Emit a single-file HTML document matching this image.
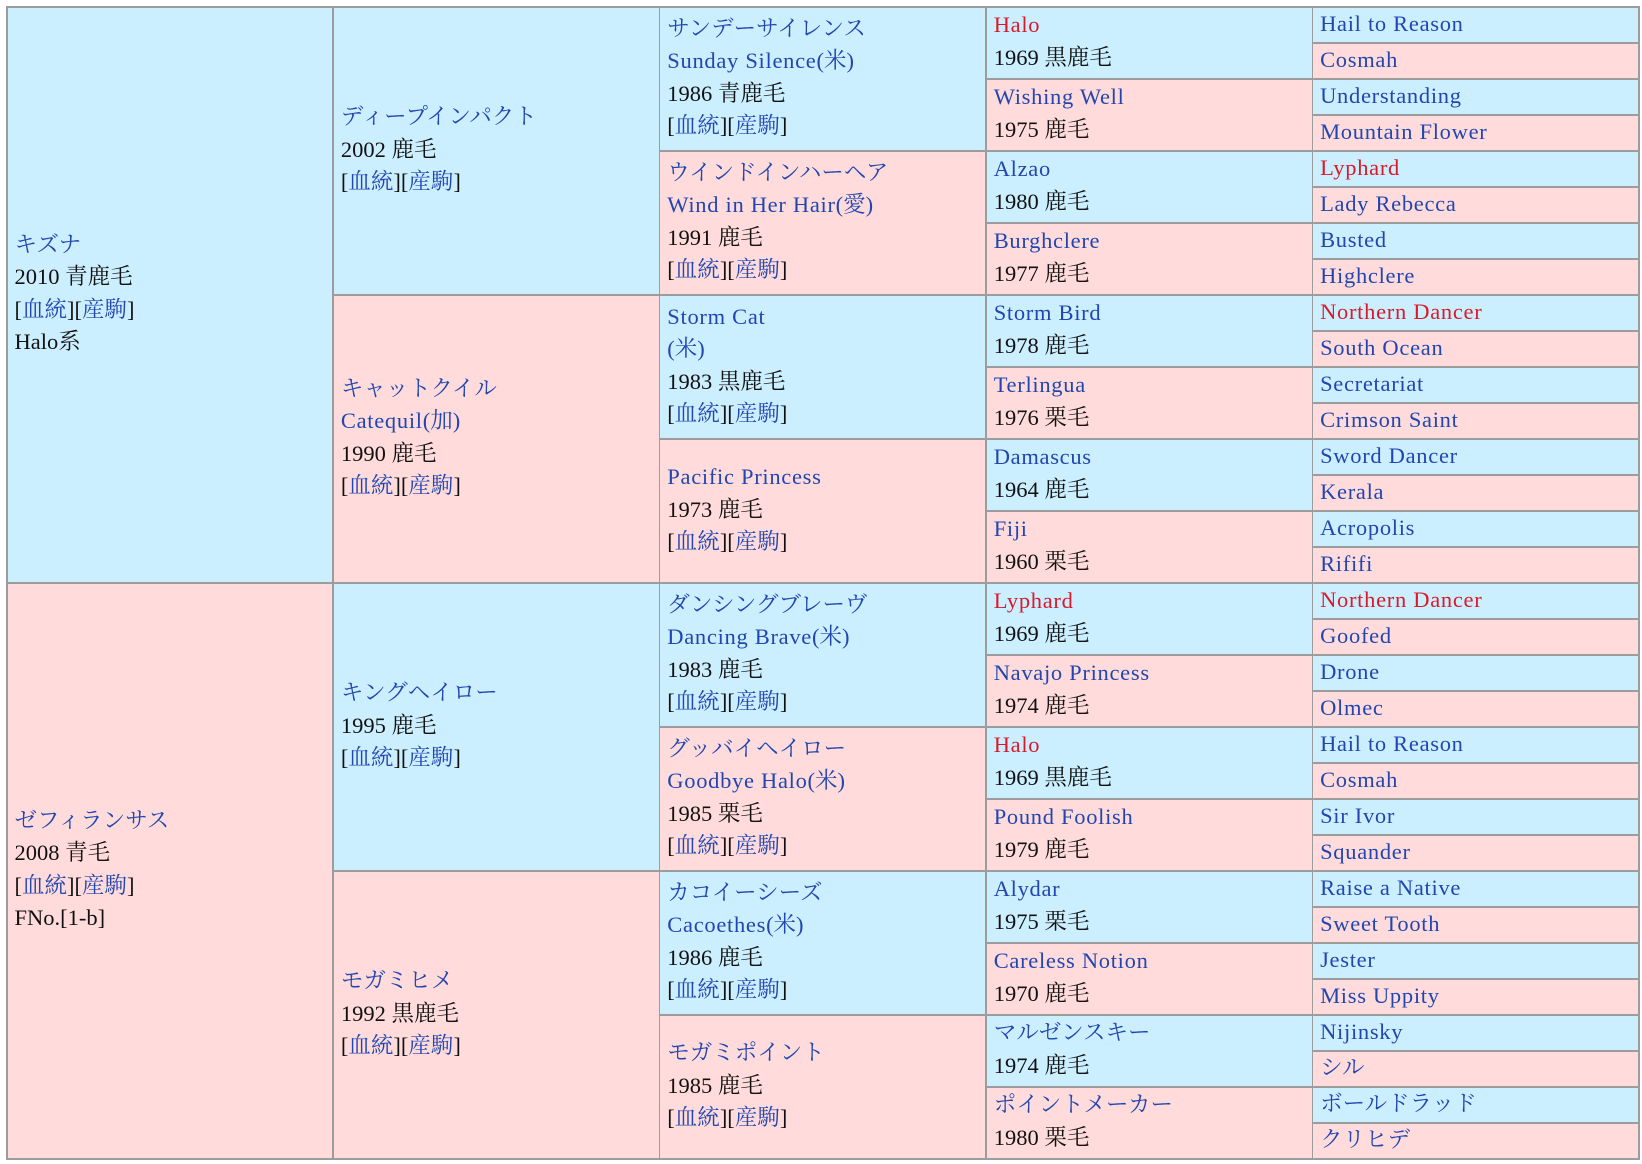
<!DOCTYPE html>
<html><head><meta charset="utf-8">
<style>
html,body{margin:0;padding:0;background:#fff;width:1642px;height:1164px;overflow:hidden}
#t{position:absolute;left:6px;top:6px;width:1633.5px;height:1153.5px;background:#9c9c9c;font-family:"Liberation Serif","Noto Serif CJK SC",serif;font-size:22.5px;line-height:32.5px;color:#111}
.c{position:absolute;display:flex;flex-direction:column;justify-content:center;padding:0 0 2px 7px;box-sizing:border-box;white-space:nowrap;overflow:hidden}
.b{background:#ccefff}.p{background:#ffdcdb}
.k0{left:1.5px;width:324.9px;height:574.5px}
.k1{left:327.9px;width:324.9px;height:286.5px}
.k2{left:654.3px;width:324.9px;height:142.5px}
.k3{left:980.7px;width:324.9px;height:70.5px}
.k4{left:1307.1px;width:324.9px;height:34.5px}
.k4 a,.e{letter-spacing:0.7px}
a{color:#2246b0;text-decoration:none}
.r{color:#d91a2a}
</style></head><body>
<div id="t">
<!-- col 0 -->
<div class="c k0 b" style="top:1.5px"><div><a>キズナ</a></div><div>2010 青鹿毛</div><div>[<a>血統</a>][<a>産駒</a>]</div><div>Halo系</div></div>
<div class="c k0 p" style="top:577.5px"><div><a>ゼフィランサス</a></div><div>2008 青毛</div><div>[<a>血統</a>][<a>産駒</a>]</div><div>FNo.[1-b]</div></div>
<!-- col 1 -->
<div class="c k1 b" style="top:1.5px"><div><a>ディープインパクト</a></div><div>2002 鹿毛</div><div>[<a>血統</a>][<a>産駒</a>]</div></div>
<div class="c k1 p" style="top:289.5px"><div><a>キャットクイル</a></div><div><a class="e">Catequil</a><a>(加)</a></div><div>1990 鹿毛</div><div>[<a>血統</a>][<a>産駒</a>]</div></div>
<div class="c k1 b" style="top:577.5px"><div><a>キングヘイロー</a></div><div>1995 鹿毛</div><div>[<a>血統</a>][<a>産駒</a>]</div></div>
<div class="c k1 p" style="top:865.5px"><div><a>モガミヒメ</a></div><div>1992 黒鹿毛</div><div>[<a>血統</a>][<a>産駒</a>]</div></div>
<!-- col 2 -->
<div class="c k2 b" style="top:1.5px"><div><a>サンデーサイレンス</a></div><div><a class="e">Sunday Silence</a><a>(米)</a></div><div>1986 青鹿毛</div><div>[<a>血統</a>][<a>産駒</a>]</div></div>
<div class="c k2 p" style="top:145.5px"><div><a>ウインドインハーヘア</a></div><div><a class="e">Wind in Her Hair</a><a>(愛)</a></div><div>1991 鹿毛</div><div>[<a>血統</a>][<a>産駒</a>]</div></div>
<div class="c k2 b" style="top:289.5px"><div><a class="e">Storm Cat</a></div><div><a>(米)</a></div><div>1983 黒鹿毛</div><div>[<a>血統</a>][<a>産駒</a>]</div></div>
<div class="c k2 p" style="top:433.5px"><div><a class="e">Pacific Princess</a></div><div>1973 鹿毛</div><div>[<a>血統</a>][<a>産駒</a>]</div></div>
<div class="c k2 b" style="top:577.5px"><div><a>ダンシングブレーヴ</a></div><div><a class="e">Dancing Brave</a><a>(米)</a></div><div>1983 鹿毛</div><div>[<a>血統</a>][<a>産駒</a>]</div></div>
<div class="c k2 p" style="top:721.5px"><div><a>グッバイヘイロー</a></div><div><a class="e">Goodbye Halo</a><a>(米)</a></div><div>1985 栗毛</div><div>[<a>血統</a>][<a>産駒</a>]</div></div>
<div class="c k2 b" style="top:865.5px"><div><a>カコイーシーズ</a></div><div><a class="e">Cacoethes</a><a>(米)</a></div><div>1986 鹿毛</div><div>[<a>血統</a>][<a>産駒</a>]</div></div>
<div class="c k2 p" style="top:1009.5px"><div><a>モガミポイント</a></div><div>1985 鹿毛</div><div>[<a>血統</a>][<a>産駒</a>]</div></div>
<!-- col 3 -->
<div class="c k3 b" style="top:1.5px"><div><a class="r e">Halo</a></div><div>1969 黒鹿毛</div></div>
<div class="c k3 p" style="top:73.5px"><div><a class="e">Wishing Well</a></div><div>1975 鹿毛</div></div>
<div class="c k3 b" style="top:145.5px"><div><a class="e">Alzao</a></div><div>1980 鹿毛</div></div>
<div class="c k3 p" style="top:217.5px"><div><a class="e">Burghclere</a></div><div>1977 鹿毛</div></div>
<div class="c k3 b" style="top:289.5px"><div><a class="e">Storm Bird</a></div><div>1978 鹿毛</div></div>
<div class="c k3 p" style="top:361.5px"><div><a class="e">Terlingua</a></div><div>1976 栗毛</div></div>
<div class="c k3 b" style="top:433.5px"><div><a class="e">Damascus</a></div><div>1964 鹿毛</div></div>
<div class="c k3 p" style="top:505.5px"><div><a class="e">Fiji</a></div><div>1960 栗毛</div></div>
<div class="c k3 b" style="top:577.5px"><div><a class="r e">Lyphard</a></div><div>1969 鹿毛</div></div>
<div class="c k3 p" style="top:649.5px"><div><a class="e">Navajo Princess</a></div><div>1974 鹿毛</div></div>
<div class="c k3 b" style="top:721.5px"><div><a class="r e">Halo</a></div><div>1969 黒鹿毛</div></div>
<div class="c k3 p" style="top:793.5px"><div><a class="e">Pound Foolish</a></div><div>1979 鹿毛</div></div>
<div class="c k3 b" style="top:865.5px"><div><a class="e">Alydar</a></div><div>1975 栗毛</div></div>
<div class="c k3 p" style="top:937.5px"><div><a class="e">Careless Notion</a></div><div>1970 鹿毛</div></div>
<div class="c k3 b" style="top:1009.5px"><div><a>マルゼンスキー</a></div><div>1974 鹿毛</div></div>
<div class="c k3 p" style="top:1081.5px"><div><a>ポイントメーカー</a></div><div>1980 栗毛</div></div>
<!-- col 4 -->
<div class="c k4 b" style="top:1.5px"><div><a>Hail to Reason</a></div></div>
<div class="c k4 p" style="top:37.5px"><div><a>Cosmah</a></div></div>
<div class="c k4 b" style="top:73.5px"><div><a>Understanding</a></div></div>
<div class="c k4 p" style="top:109.5px"><div><a>Mountain Flower</a></div></div>
<div class="c k4 b" style="top:145.5px"><div><a class="r">Lyphard</a></div></div>
<div class="c k4 p" style="top:181.5px"><div><a>Lady Rebecca</a></div></div>
<div class="c k4 b" style="top:217.5px"><div><a>Busted</a></div></div>
<div class="c k4 p" style="top:253.5px"><div><a>Highclere</a></div></div>
<div class="c k4 b" style="top:289.5px"><div><a class="r">Northern Dancer</a></div></div>
<div class="c k4 p" style="top:325.5px"><div><a>South Ocean</a></div></div>
<div class="c k4 b" style="top:361.5px"><div><a>Secretariat</a></div></div>
<div class="c k4 p" style="top:397.5px"><div><a>Crimson Saint</a></div></div>
<div class="c k4 b" style="top:433.5px"><div><a>Sword Dancer</a></div></div>
<div class="c k4 p" style="top:469.5px"><div><a>Kerala</a></div></div>
<div class="c k4 b" style="top:505.5px"><div><a>Acropolis</a></div></div>
<div class="c k4 p" style="top:541.5px"><div><a>Rififi</a></div></div>
<div class="c k4 b" style="top:577.5px"><div><a class="r">Northern Dancer</a></div></div>
<div class="c k4 p" style="top:613.5px"><div><a>Goofed</a></div></div>
<div class="c k4 b" style="top:649.5px"><div><a>Drone</a></div></div>
<div class="c k4 p" style="top:685.5px"><div><a>Olmec</a></div></div>
<div class="c k4 b" style="top:721.5px"><div><a>Hail to Reason</a></div></div>
<div class="c k4 p" style="top:757.5px"><div><a>Cosmah</a></div></div>
<div class="c k4 b" style="top:793.5px"><div><a>Sir Ivor</a></div></div>
<div class="c k4 p" style="top:829.5px"><div><a>Squander</a></div></div>
<div class="c k4 b" style="top:865.5px"><div><a>Raise a Native</a></div></div>
<div class="c k4 p" style="top:901.5px"><div><a>Sweet Tooth</a></div></div>
<div class="c k4 b" style="top:937.5px"><div><a>Jester</a></div></div>
<div class="c k4 p" style="top:973.5px"><div><a>Miss Uppity</a></div></div>
<div class="c k4 b" style="top:1009.5px"><div><a>Nijinsky</a></div></div>
<div class="c k4 p" style="top:1045.5px"><div><a style="letter-spacing:0">シル</a></div></div>
<div class="c k4 b" style="top:1081.5px"><div><a style="letter-spacing:0">ボールドラッド</a></div></div>
<div class="c k4 p" style="top:1117.5px"><div><a style="letter-spacing:0">クリヒデ</a></div></div>
</div>
</body></html>
